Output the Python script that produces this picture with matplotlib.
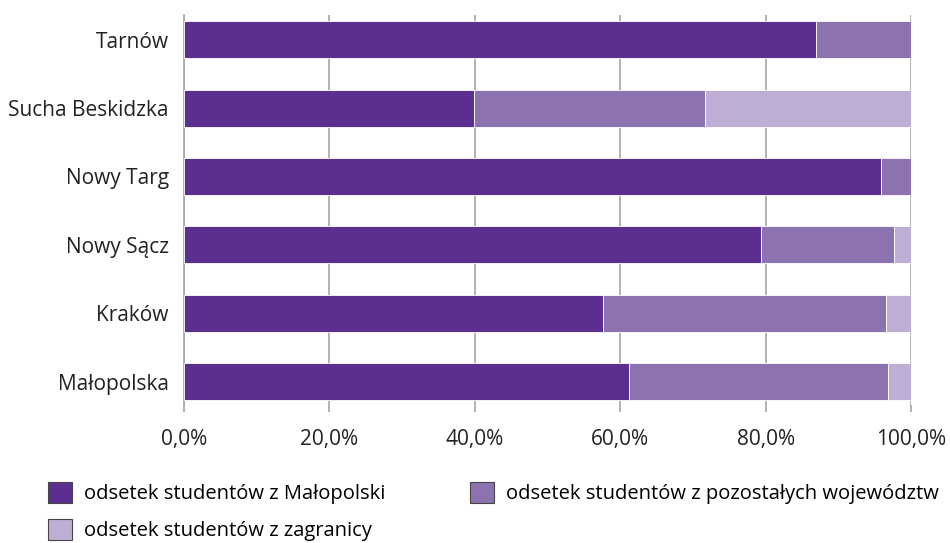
import matplotlib
matplotlib.use("Agg")
import matplotlib.pyplot as plt
from matplotlib.patches import Patch
from matplotlib.ticker import FuncFormatter

plt.rcParams['font.family'] = ['Open Sans', 'DejaVu Sans']

categories = ["Małopolska", "Kraków", "Nowy Sącz", "Nowy Targ", "Sucha Beskidzka", "Tarnów"]
malopolska = [61.2, 57.7, 79.3, 95.9, 39.9, 87.0]
pozostale = [35.6, 38.9, 18.4, 4.1, 31.8, 13.0]
zagranica = [3.2, 3.4, 2.3, 0.0, 28.3, 0.0]
series_names = ["odsetek studentów z Małopolski",
                "odsetek studentów z pozostałych województw",
                "odsetek studentów z zagranicy"]
colors = ["#5B2E8F", "#8C73B0", "#BEAED5"]

FS = 15
LFS = 14.5
fig = plt.figure(figsize=(9.5, 5.43), dpi=100)
ax = fig.add_axes([184/950, 1-405/543, (911-184)/950, (405-15)/543])

y = list(range(len(categories)))
left = [0]*len(categories)
for vals, c in zip([malopolska, pozostale, zagranica], colors):
    ax.barh(y, vals, left=left, height=0.54, color=c, edgecolor='white', linewidth=0.6, zorder=3)
    left = [l+v for l, v in zip(left, vals)]

ax.set_xlim(0, 100)
ax.set_ylim(-0.34, 5.36)
ax.set_xticks([0, 20, 40, 60, 80, 100])
ax.xaxis.set_major_formatter(FuncFormatter(lambda v, p: f"{v:.1f}%".replace('.', ',')))
ax.set_yticks(y)
ax.set_yticklabels(categories)
ax.grid(axis='x', color='#A6A6A6', linewidth=1.2, zorder=0)
for s in ['top', 'right', 'bottom']:
    ax.spines[s].set_visible(False)
ax.spines['left'].set_color('#A6A6A6')
ax.spines['left'].set_linewidth(1.2)
ax.tick_params(axis='x', length=5, width=1.2, color='#A6A6A6', labelsize=FS, labelcolor='#222222', pad=12)
ax.tick_params(axis='y', length=0, labelsize=FS, labelcolor='#222222', pad=11)

handles = [Patch(facecolor=c, edgecolor='#444444', linewidth=0.8) for c in colors]
order = [0, 2, 1]
fig.legend([handles[i] for i in order], [series_names[i] for i in order],
           loc='upper left', bbox_to_anchor=(48/950, 1-482/543),
           ncol=2, frameon=False, fontsize=LFS, handlelength=1.2, handleheight=1.2,
           handletextpad=0.6, columnspacing=4.2, labelspacing=0.75,
           borderpad=0, borderaxespad=0)

fig.savefig("out.png", dpi=100)
